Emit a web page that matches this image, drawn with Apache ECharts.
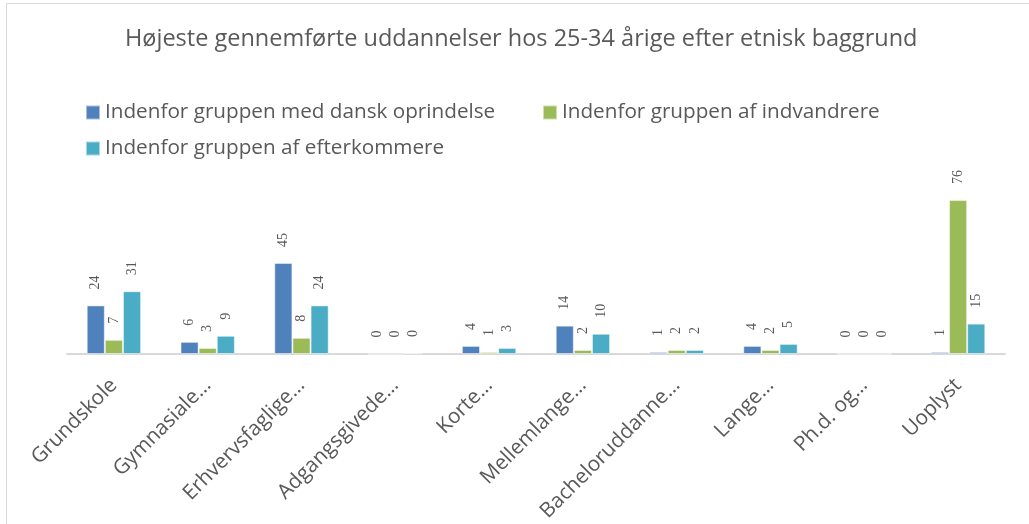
<!DOCTYPE html>
<html lang="da">
<head>
    <meta charset="UTF-8">
    <title>Højeste gennemførte uddannelser</title>
    <script src="https://cdn.jsdelivr.net/npm/echarts@6/dist/echarts.min.js"></script>
    <style>
        html, body { margin: 0; padding: 0; background: #fff; }
        #chart { width: 1029px; height: 524px; }
    </style>
</head>
<body>
    <div id="chart"></div>
    <script>
        // kategorier som de vises (afkortet) på x-aksen
        var categories = ['Grundskole', 'Gymnasiale…', 'Erhvervsfaglige…', 'Adgangsgivede…', 'Korte…',
            'Mellemlange…', 'Bacheloruddanne…', 'Lange…', 'Ph.d. og…', 'Uoplyst'];
        var seriesNames = ['Indenfor gruppen med dansk oprindelse', 'Indenfor gruppen af indvandrere',
            'Indenfor gruppen af efterkommere'];
        var dansk = [24, 6, 45, 0, 4, 14, 1, 4, 0, 1];
        var indvandrere = [7, 3, 8, 0, 1, 2, 2, 2, 0, 76];
        var efterkommere = [31, 9, 24, 0.4, 3, 10, 2, 5, 0, 15];
        var colors = ['#4F81BD', '#9BBB59', '#4BACC6'];

        var font = '"Open Sans", sans-serif';
        var chart = echarts.init(document.getElementById('chart'));

        function legend(name, left, top) {
            return {
                data: [name],
                left: left,
                top: top,
                padding: 0,
                icon: 'rect',
                itemWidth: 14,
                itemHeight: 14,
                itemGap: 5,
                textStyle: { fontSize: 20.7, color: '#595959', fontFamily: font }
            };
        }

        function bar(name, data) {
            return {
                name: name,
                type: 'bar',
                data: data,
                barGap: '0%',
                barCategoryGap: '42%',
                itemStyle: { borderColor: 'rgba(255,255,255,0.5)', borderWidth: 1 },
                label: {
                    show: true,
                    position: 'top',
                    rotate: 90,
                    distance: 16,
                    align: 'left',
                    verticalAlign: 'middle',
                    fontFamily: '"Liberation Serif", serif',
                    fontSize: 14,
                    color: '#595959',
                    formatter: function (p) { return Math.round(p.value); }
                }
            };
        }

        var option = {
            color: colors,
            animation: false,
            title: {
                text: 'Højeste gennemførte uddannelser hos 25-34 årige efter etnisk baggrund',
                left: 125,
                top: 27,
                padding: 0,
                textStyle: { fontSize: 23.5, fontWeight: 'normal', color: '#595959', fontFamily: font }
            },
            legend: [
                legend(seriesNames[0], 85, 102),
                legend(seriesNames[1], 542, 102),
                legend(seriesNames[2], 85, 138)
            ],
            graphic: [{
                type: 'rect',
                shape: { x: 6.5, y: 3.5, width: 1100, height: 600 },
                style: { fill: 'none', stroke: '#d9d9d9', lineWidth: 1 },
                silent: true
            }],
            grid: { left: 67, right: 24, top: 192, bottom: 170, outerBoundsMode: 'none', containLabel: false },
            xAxis: {
                type: 'category',
                data: categories,
                axisLine: { lineStyle: { color: '#d9d9d9', width: 2 } },
                axisTick: { show: false },
                axisLabel: {
                    rotate: 45,
                    interval: 0,
                    margin: 28,
                    fontSize: 20.7,
                    color: '#595959',
                    fontFamily: font
                }
            },
            yAxis: {
                type: 'value',
                min: 0,
                max: 80,
                show: false
            },
            series: [
                bar(seriesNames[0], dansk),
                bar(seriesNames[1], indvandrere),
                bar(seriesNames[2], efterkommere)
            ]
        };

        chart.setOption(option);
    </script>
</body>
</html>
